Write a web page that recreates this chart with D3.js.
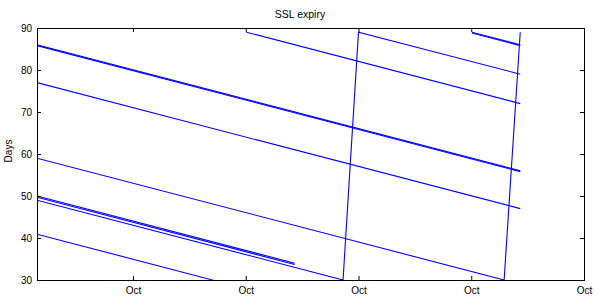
<!DOCTYPE html>
<html>
<head>
<meta charset="utf-8">
<script src="https://cdn.jsdelivr.net/npm/d3@7"></script>
<style>
  body { margin: 0; background: #fff; }
  text { font-family: "Liberation Sans", Arial, sans-serif; fill: #000; }
</style>
</head>
<body>
<svg id="chart"></svg>
<script>
// days left on each certificate (vertices only, lines are straight)
const certA  = [["2023-09-25T01:00", 86],   ["2023-10-25T01:00", 56]];
const certA2 = [["2023-09-25T01:00", 85.8], ["2023-10-25T01:00", 55.8]];
const certB  = [["2023-09-25T01:00", 77],   ["2023-10-25T01:00", 47]];
const certC  = [["2023-09-25T01:00", 59],   ["2023-10-24T01:00", 30], ["2023-10-25T01:00", 89]];
const certD  = [["2023-09-25T01:00", 50],   ["2023-10-11T01:00", 34]];
const certD2 = [["2023-09-25T01:00", 49.7], ["2023-10-11T01:00", 33.7]];
const certE  = [["2023-09-25T01:00", 49],   ["2023-10-14T01:00", 30], ["2023-10-15T00:00", 89], ["2023-10-25T01:00", 79]];
const certF  = [["2023-09-25T01:00", 40.9], ["2023-10-06T01:00", 29.9]];
const certG  = [["2023-10-08T01:00", 89],   ["2023-10-25T01:00", 72]];
const certH  = [["2023-10-22T01:00", 89],   ["2023-10-25T01:00", 86]];
const certH2 = [["2023-10-22T01:00", 88.8], ["2023-10-25T01:00", 85.8]];

const allCerts = [certA, certA2, certB, certC, certD, certD2, certE, certF, certG, certH, certH2];

const xStart = "2023-09-25T01:00";
const xEnd = "2023-10-29T00:00";
const xTicks = ["2023-10-01T00:00", "2023-10-08T00:00", "2023-10-15T00:00", "2023-10-22T00:00", "2023-10-29T00:00"];
const yTicks = [30, 40, 50, 60, 70, 80, 90];

const parse = d3.utcParse("%Y-%m-%dT%H:%M");

const width = 600, height = 300;
const margin = {top: 28, right: 16, bottom: 20, left: 37};
const plotW = width - margin.left - margin.right;
const plotH = height - margin.top - margin.bottom;

const svg = d3.select("#chart")
    .attr("width", width)
    .attr("height", height);

const x = d3.scaleUtc()
    .domain([parse(xStart), parse(xEnd)])
    .range([margin.left, margin.left + plotW]);

const y = d3.scaleLinear()
    .domain([30, 90])
    .range([margin.top + plotH, margin.top]);

svg.append("defs").append("clipPath")
    .attr("id", "plot-clip")
    .append("rect")
    .attr("x", margin.left)
    .attr("y", margin.top)
    .attr("width", plotW)
    .attr("height", plotH);

const line = d3.line()
    .x(d => x(parse(d[0])))
    .y(d => y(d[1]));

svg.append("g")
    .attr("clip-path", "url(#plot-clip)")
    .selectAll("path")
    .data(allCerts)
    .enter().append("path")
    .attr("d", line)
    .attr("fill", "none")
    .attr("stroke", "#0000ff")
    .attr("stroke-width", 1.1);

// gnuplot style axes: ticks inside, mirrored on all four sides
const tickLen = 4;
const xTickDates = xTicks.map(parse);

const xAxisBottom = d3.axisBottom(x)
    .tickValues(xTickDates)
    .tickSize(-tickLen)
    .tickPadding(7)
    .tickFormat(d3.utcFormat("%b"));

const xAxisTop = d3.axisTop(x)
    .tickValues(xTickDates)
    .tickSize(-tickLen)
    .tickFormat("");

const yAxisLeft = d3.axisLeft(y)
    .tickValues(yTicks)
    .tickSize(-tickLen)
    .tickPadding(5)
    .tickFormat(d3.format("d"));

const yAxisRight = d3.axisRight(y)
    .tickValues(yTicks)
    .tickSize(-tickLen)
    .tickFormat("");

function styleAxis(g) {
    g.select(".domain").remove();
    g.selectAll(".tick line").attr("stroke", "#000");
    g.selectAll(".tick text")
        .attr("font-size", "10px")
        .attr("font-family", "Liberation Sans, Arial, sans-serif")
        .attr("fill", "#000");
}

svg.append("g").attr("transform", `translate(0,${margin.top + plotH})`).call(xAxisBottom).call(styleAxis);
svg.append("g").attr("transform", `translate(0,${margin.top})`).call(xAxisTop).call(styleAxis);
svg.append("g").attr("transform", `translate(${margin.left},0)`).call(yAxisLeft).call(styleAxis);
svg.append("g").attr("transform", `translate(${margin.left + plotW},0)`).call(yAxisRight).call(styleAxis);

svg.append("rect")
    .attr("x", margin.left + 0.5)
    .attr("y", margin.top + 0.5)
    .attr("width", plotW)
    .attr("height", plotH)
    .attr("fill", "none")
    .attr("stroke", "#000")
    .attr("stroke-width", 1);

svg.append("text")
    .attr("x", width / 2)
    .attr("y", 18)
    .attr("text-anchor", "middle")
    .attr("font-size", "10.5px")
    .text("SSL expiry");

svg.append("text")
    .attr("transform", `translate(12,${margin.top + plotH / 2 - 3}) rotate(-90)`)
    .attr("text-anchor", "middle")
    .attr("font-size", "10px")
    .text("Days");
</script>
</body>
</html>
